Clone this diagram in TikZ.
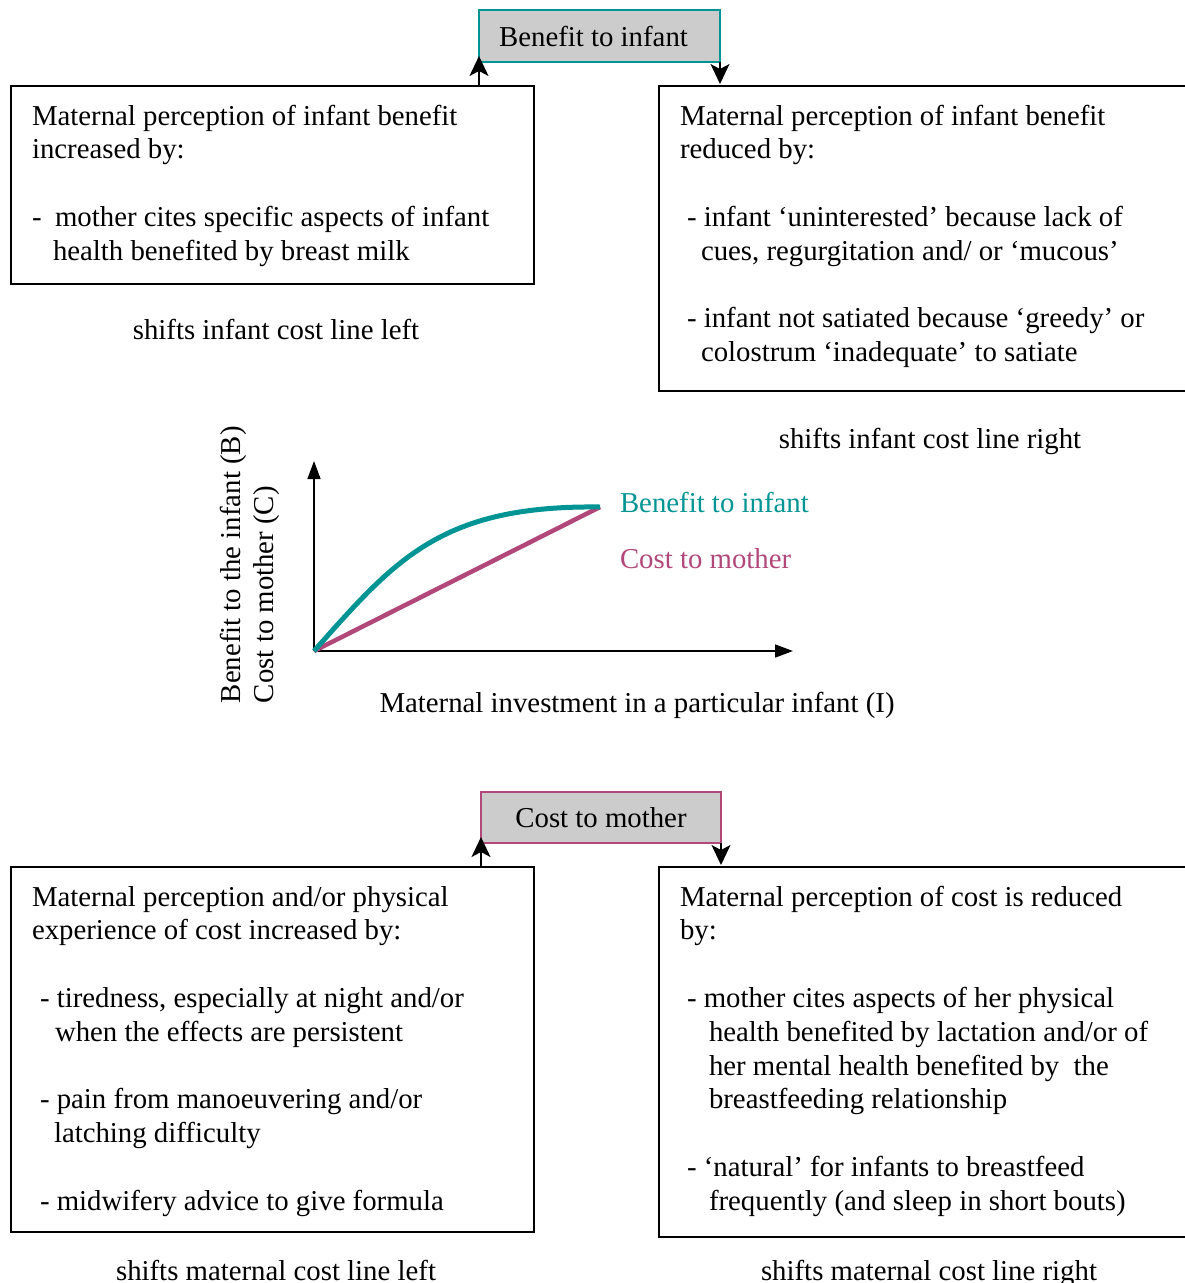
\documentclass[tikz,border=0pt]{standalone}
\usepackage{fontspec}
\setmainfont{Liberation Serif}
\usetikzlibrary{arrows.meta}
\definecolor{benefitteal}{RGB}{0,148,148}
\definecolor{costplum}{RGB}{178,72,122}
\definecolor{labelgray}{RGB}{204,204,204}
\begin{document}
\begin{tikzpicture}[x=1pt,y=-1pt,
  every node/.style={font=\fontsize{28.8}{33.8}\selectfont, inner sep=0pt, outer sep=0pt},
  frame/.style={draw=black, line width=1.6pt, anchor=north west},
  header/.style={fill=labelgray, line width=1.6pt, anchor=north west},
  % text blocks hang from the top of a strut on their first line
  txt/.style={anchor=north west, align=left, yshift=23.66pt},
  caption/.style={anchor=base},
  link/.style={line width=1.6pt, -{Stealth[length=20pt,width=19pt,inset=5pt]}},
  axis/.style={line width=1.5pt, -{Triangle[length=18pt,width=13pt]}},
]
\clip (0,0) rectangle (1185,1283);

% ---------- upper half: benefit to infant ----------
\node[header, draw=benefitteal, minimum width=241pt, minimum height=52pt] (benefit) at (479,10) {\raisebox{-3pt}{Benefit to infant}\kern12pt};
\node[frame, minimum width=523pt, minimum height=198pt] (incB) at (11,86) {};
\node[frame, minimum width=560pt, minimum height=305pt] (decB) at (659,86) {};

\node[txt] (incBtext) at (32,125) {\strut Maternal perception of infant benefit\\
increased by:\\[33.8pt]
-\hspace{13.5pt}mother cites specific aspects of infant\\
\hspace*{21pt}health benefited by breast milk};

\node[txt] (decBtext) at (680,125) {\strut Maternal perception of infant benefit\\
reduced by:\\[33.8pt]
\hspace*{7pt}- infant ‘uninterested’ because lack of\\
\hspace*{21pt}cues, regurgitation and/ or ‘mucous’\\[33.8pt]
\hspace*{7pt}- infant not satiated because ‘greedy’ or\\
\hspace*{21pt}colostrum ‘inadequate’ to satiate};

\node[caption] (shiftBleft) at (276,339) {shifts infant cost line left};
\node[caption] (shiftBright) at (930,448) {shifts infant cost line right};

\draw[link, shorten >=-6pt] (incB.north -| benefit.south west) -- (benefit.south west);
\draw[link, shorten >=2pt] (benefit.south east) -- (benefit.south east |- decB.north);

% ---------- graph ----------
\coordinate (origin) at (314,651);
\coordinate (ytip) at (314,461);
\coordinate (xtip) at (793,651);
\coordinate (peak) at (600,507);
\draw[axis] (origin) -- (ytip);
\draw[axis] (origin) -- (xtip);
\draw[costplum, line width=4.5pt] (origin) -- (peak);
\draw[benefitteal, line width=5pt] (origin) .. controls (395,560) and (440,505) .. (peak);

\node[anchor=base west, text=benefitteal] (benefitkey) at (620,512) {Benefit to infant};
\node[anchor=base west, text=costplum] (costkey) at (620,568) {Cost to mother};
\node[rotate=90, anchor=base west] (ylabelB) at (240,703) {Benefit to the infant (B)};
\node[rotate=90, anchor=base west] (ylabelC) at (273,703) {Cost to mother (C)};
\node[caption] (xlabel) at (637,712) {Maternal investment in a particular infant (I)};

% ---------- lower half: cost to mother ----------
\node[header, draw=costplum, minimum width=240pt, minimum height=51pt] (cost) at (481,792) {\raisebox{-3pt}{Cost to mother}};
\node[frame, minimum width=523pt, minimum height=365pt] (incC) at (11,867) {};
\node[frame, minimum width=560pt, minimum height=370pt] (decC) at (659,867) {};

\node[txt] (incCtext) at (32,906) {\strut Maternal perception and/or physical\\
experience of cost increased by:\\[33.8pt]
\hspace*{8pt}- tiredness, especially at night and/or\\
\hspace*{23pt}when the effects are persistent\\[33.8pt]
\hspace*{8pt}- pain from manoeuvering and/or\\
\hspace*{22pt}latching difficulty\\[33.8pt]
\hspace*{8pt}- midwifery advice to give formula};

\node[txt] (decCtext) at (680,906) {\strut Maternal perception of cost is reduced\\
by:\\[33.8pt]
\hspace*{7pt}- mother cites aspects of her physical\\
\hspace*{29pt}health benefited by lactation and/or of\\
\hspace*{29pt}her mental health benefited by \ the\\
\hspace*{29pt}breastfeeding relationship\\[33.8pt]
\hspace*{7pt}- ‘natural’ for infants to breastfeed\\
\hspace*{29pt}frequently (and sleep in short bouts)};

\node[caption] (shiftCleft) at (276,1280) {shifts maternal cost line left};
\node[caption] (shiftCright) at (929,1280) {shifts maternal cost line right};

\draw[link, shorten >=-6pt] (incC.north -| cost.south west) -- (cost.south west);
\draw[link, shorten >=2pt] (cost.south east) -- (cost.south east |- decC.north);
\end{tikzpicture}
\end{document}
